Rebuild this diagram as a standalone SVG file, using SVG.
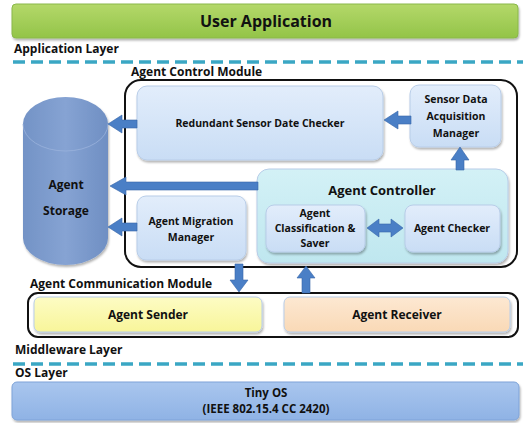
<svg xmlns="http://www.w3.org/2000/svg" width="523" height="423" viewBox="0 0 523 423">
<defs>
<linearGradient id="gGreen" x1="0" y1="0" x2="0" y2="1"><stop offset="0" stop-color="#b4d86a"/><stop offset="1" stop-color="#93c448"/></linearGradient>
<linearGradient id="gBlue" x1="0" y1="0" x2="0" y2="1"><stop offset="0" stop-color="#e2edfb"/><stop offset="1" stop-color="#c9ddf5"/></linearGradient>
<linearGradient id="gCyan" x1="0" y1="0" x2="0" y2="1"><stop offset="0" stop-color="#d3f1f6"/><stop offset="1" stop-color="#bfe7ef"/></linearGradient>
<linearGradient id="gYellow" x1="0" y1="0" x2="0" y2="1"><stop offset="0" stop-color="#fdfcc4"/><stop offset="1" stop-color="#f8f59a"/></linearGradient>
<linearGradient id="gPeach" x1="0" y1="0" x2="0" y2="1"><stop offset="0" stop-color="#fde8d2"/><stop offset="1" stop-color="#f9d9b6"/></linearGradient>
<linearGradient id="gOS" x1="0" y1="0" x2="0" y2="1"><stop offset="0" stop-color="#a9c6ee"/><stop offset="1" stop-color="#8fb3e5"/></linearGradient>
<linearGradient id="gCyl" x1="0" y1="0" x2="1" y2="0"><stop offset="0" stop-color="#7393c6"/><stop offset="0.5" stop-color="#86a3d3"/><stop offset="1" stop-color="#6f8fc3"/></linearGradient>
<filter id="sh" x="-10%" y="-10%" width="120%" height="130%"><feDropShadow dx="1" dy="2" stdDeviation="1.2" flood-color="#000" flood-opacity="0.3"/></filter>
</defs>
<style>
.t{font-family:"Open Sans","Liberation Sans",sans-serif;font-weight:700;fill:#111}
.lbl{font-size:12px}
.n{font-size:10.5px;text-anchor:middle}
.box{stroke:#b8cde8;stroke-width:1;filter:url(#sh)}
.mod{fill:none;stroke:#111;stroke-width:2}
.dash{stroke:#3aa7c4;stroke-width:3.5;stroke-dasharray:12 6}
.arr{fill:#4a7fc6;stroke:#3565a8;stroke-width:0.6}
</style>

<g id="user-application">
<rect x="12" y="4" width="506" height="34" rx="4" fill="url(#gGreen)" stroke="#8ab84a" filter="url(#sh)"/>
<text class="t" x="266" y="27" font-size="16" text-anchor="middle">User Application</text>
</g>
<text class="t lbl" x="14" y="53">Application Layer</text>
<line class="dash" x1="13" y1="62" x2="523" y2="62"/>

<g id="agent-control-module">
<text class="t lbl" x="131" y="76">Agent Control Module</text>
<rect class="mod" x="125" y="80" width="392" height="187" rx="16"/>
</g>

<g id="agent-storage">
<path d="M23,124 L23,238 A42.5,27 0 0 0 108,238 L108,124 A42.5,27 0 0 0 23,124 Z" fill="url(#gCyl)" filter="url(#sh)"/>
<path d="M23,124 A42.5,27 0 0 0 108,124" fill="none" stroke="#9ab3dc" stroke-width="0.8"/>
<text class="t" x="66" y="189" font-size="12" text-anchor="middle">Agent</text>
<text class="t" x="66" y="215" font-size="12" text-anchor="middle">Storage</text>
</g>

<g id="redundant-checker">
<rect class="box" x="137" y="86" width="246" height="74" rx="10" fill="url(#gBlue)"/>
<text class="t n" x="260" y="127">Redundant Sensor Date Checker</text>
</g>

<g id="sensor-data-acquisition">
<rect class="box" x="410" y="85" width="91" height="62" rx="9" fill="url(#gBlue)"/>
<text class="t n" x="456" y="103">Sensor Data</text>
<text class="t n" x="456" y="120">Acquisition</text>
<text class="t n" x="456" y="137">Manager</text>
</g>

<g id="agent-controller">
<rect class="box" x="257" y="169" width="251" height="94" rx="12" fill="url(#gCyan)" stroke="#a8dbe6"/>
<text class="t" x="382" y="195" font-size="13" text-anchor="middle">Agent Controller</text>
</g>

<g id="agent-classification">
<rect class="box" x="266" y="205" width="99" height="47" rx="8" fill="url(#gBlue)"/>
<text class="t n" x="315" y="217">Agent</text>
<text class="t n" x="315" y="232">Classification &amp;</text>
<text class="t n" x="315" y="247">Saver</text>
</g>

<g id="agent-checker">
<rect class="box" x="405" y="205" width="95" height="47" rx="8" fill="url(#gBlue)"/>
<text class="t n" x="452" y="232">Agent Checker</text>
</g>

<g id="agent-migration">
<rect class="box" x="137" y="196" width="109" height="64" rx="9" fill="url(#gBlue)"/>
<text class="t n" x="191" y="225">Agent Migration</text>
<text class="t n" x="191" y="241">Manager</text>
</g>

<g id="agent-communication-module">
<text class="t lbl" x="30" y="288">Agent Communication Module</text>
<rect class="mod" x="28" y="293" width="490" height="44" rx="10"/>
</g>

<g id="agent-sender">
<rect class="box" x="34" y="297" width="228" height="35" rx="6" fill="url(#gYellow)" stroke="#e6e27a"/>
<text class="t" x="148" y="319" font-size="12" text-anchor="middle">Agent Sender</text>
</g>

<g id="agent-receiver">
<rect class="box" x="284" y="297" width="226" height="35" rx="6" fill="url(#gPeach)" stroke="#ecc8a0"/>
<text class="t" x="397" y="319" font-size="12" text-anchor="middle">Agent Receiver</text>
</g>

<text class="t lbl" x="15" y="354">Middleware Layer</text>
<line class="dash" x1="13" y1="364" x2="523" y2="364"/>
<text class="t lbl" x="15" y="377">OS Layer</text>

<g id="tiny-os">
<rect x="12" y="382" width="507" height="38" rx="5" fill="url(#gOS)" stroke="#7ea3d8" filter="url(#sh)"/>
<text class="t" x="266" y="397" font-size="11.5" text-anchor="middle">Tiny OS</text>
<text class="t" x="266" y="413" font-size="11.5" text-anchor="middle">(IEEE 802.15.4 CC 2420)</text>
</g>

<g id="connectors">
<path class="arr" d="M108,124 L122,115 L122,120 L137,120 L137,128 L122,128 L122,133 Z"/>
<path class="arr" d="M110,186 L126,177 L126,182 L258,182 L258,190 L126,190 L126,195 Z"/>
<path class="arr" d="M108,227 L122,218 L122,223 L137,223 L137,231 L122,231 L122,236 Z"/>
<path class="arr" d="M384,120 L398,111 L398,116 L411,116 L411,124 L398,124 L398,129 Z"/>
<path class="arr" d="M460,147 L469,160 L464,160 L464,170 L456,170 L456,160 L451,160 Z"/>
<path class="arr" d="M367,228 L379,219 L379,224 L391,224 L391,219 L403,228 L391,237 L391,232 L379,232 L379,237 Z"/>
<path class="arr" d="M239,292 L230,280 L235,280 L235,264 L243,264 L243,280 L248,280 Z"/>
<path class="arr" d="M306,266 L315,278 L310,278 L310,293 L302,293 L302,278 L297,278 Z"/>
</g>
</svg>
